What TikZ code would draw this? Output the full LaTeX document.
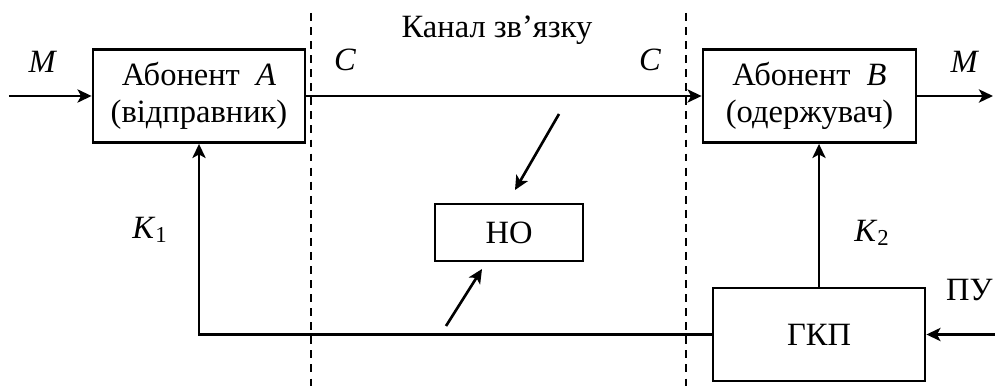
\documentclass[tikz,border=0pt]{standalone}
\usepackage{fontspec}
\setmainfont{Liberation Serif}
\usetikzlibrary{arrows.meta}
\begin{document}
\begin{tikzpicture}[line width=1.5pt, font=\fontsize{18.5}{21}\selectfont,
  block/.style={draw, line width=1.6pt, align=center, inner sep=0pt},
  arr/.style={-{Stealth[length=8pt,width=7.5pt,inset=2pt]}},
  border/.style={dash pattern=on 4.5pt off 3.5pt}]
\useasboundingbox (0,0) rectangle (19.9,-7.74);
\node[block, minimum width=4.24cm, minimum height=1.86cm] (a) at (3.98,-1.92) {Абонент \ \textit{A}\\(відправник)};
\node[block, minimum width=4.26cm, minimum height=1.86cm] (b) at (16.19,-1.92) {Абонент \ \textit{B}\\(одержувач)};
\node[block, minimum width=2.96cm, minimum height=1.14cm] (ho) at (10.18,-4.65) {НО};
\node[block, minimum width=4.24cm, minimum height=1.86cm] (g) at (16.38,-6.69) {ГКП};
% labels
\node (m1) at (0.86,-1.24) {\textit{M}};
\node (m2) at (19.3,-1.24) {\textit{M}};
\node (c1) at (6.9,-1.2) {\textit{C}};
\node (c2) at (13.0,-1.2) {\textit{C}};
\node (ch) at (9.94,-0.6) {Канал зв’язку};
\node (k1) at (3.0,-4.6) {\textit{K}\textsubscript{1}};
\node (k2) at (17.44,-4.66) {\textit{K}\textsubscript{2}};
\node[anchor=east, inner sep=0pt] (pu) at (19.88,-5.8) {ПУ};
% free ends
\coordinate (in) at (0.18,-1.92);
\coordinate (out) at (19.86,-1.92);
\coordinate (pin) at (19.9,-6.69);
\coordinate (n1) at (11.18,-2.28);
\coordinate (n2) at (10.3,-3.8);
\coordinate (n3) at (8.92,-6.52);
\coordinate (n4) at (9.64,-5.38);
% channel borders
\draw[border] (6.22,-0.26) -- (6.22,-7.74);
\draw[border] (13.72,-0.26) -- (13.72,-7.74);
% connectors
\draw[arr] (in) -- (a);
\draw[arr] (a) -- (b);
\draw[arr] (b) -- (out);
\draw[arr] (pin) -- (g);
\draw[arr] (g.north) -- (g.north |- b.south);
\draw[arr] (g.west) -| (a.south);
\draw[arr] (n1) -- (n2);
\draw[arr] (n3) -- (n4);
\end{tikzpicture}
\end{document}
